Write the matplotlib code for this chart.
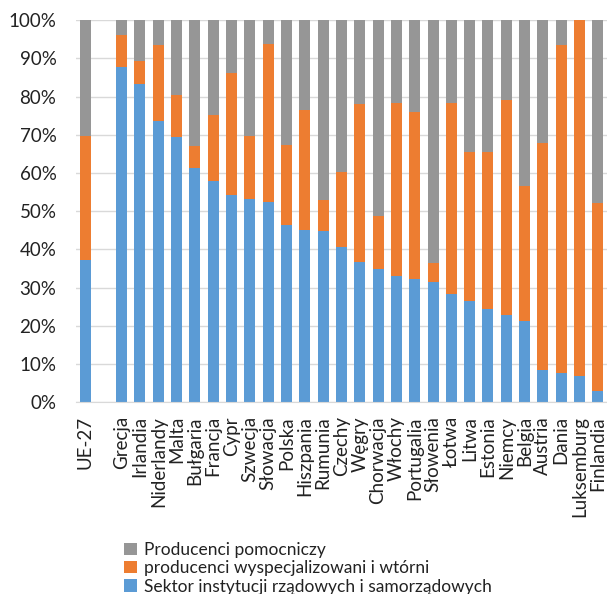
import matplotlib
matplotlib.use("Agg")
import matplotlib.pyplot as plt
import numpy as np

# Share of each sector (%), by country
countries = ["UE-27", "", "Grecja", "Irlandia", "Niderlandy", "Malta", "Bułgaria", "Francja",
             "Cypr", "Szwecja", "Słowacja", "Polska", "Hiszpania", "Rumunia", "Czechy",
             "Węgry", "Chorwacja", "Włochy", "Portugalia", "Słowenia", "Łotwa", "Litwa",
             "Estonia", "Niemcy", "Belgia", "Austria", "Dania", "Luksemburg", "Finlandia"]

sektor_rzadowy = [37.2, np.nan, 87.8, 83.3, 73.6, 69.4, 61.3, 57.8, 54.2, 53.1, 52.3, 46.3,
                  45.2, 44.7, 40.5, 36.7, 34.9, 33.0, 32.3, 31.5, 28.4, 26.5, 24.5, 22.8,
                  21.3, 8.5, 7.7, 6.8, 2.9]
# cumulative top of the second segment
gorna_granica_wyspec = [69.6, np.nan, 96.2, 89.3, 93.5, 80.5, 67.0, 75.3, 86.2, 69.8, 93.8,
                        67.2, 76.4, 52.9, 60.3, 78.0, 48.8, 78.2, 75.9, 36.3, 78.2, 65.5,
                        65.4, 79.0, 56.7, 67.8, 93.5, 100.0, 52.1]

labels = ["Sektor instytucji rządowych i samorządowych",
          "producenci wyspecjalizowani i wtórni",
          "Producenci pomocniczy"]
colors = ["#5B9BD5", "#ED7D31", "#969696"]

blue = np.array(sektor_rzadowy)
orange = np.array(gorna_granica_wyspec) - blue
gray = 100.0 - np.array(gorna_granica_wyspec)

plt.rcParams["font.family"] = ["Lato", "DejaVu Sans"]

fig = plt.figure(figsize=(6.07, 5.94), dpi=100)
ax = fig.add_axes([0.125, 0.323, 0.875, 0.643])

x = np.arange(len(countries))
w = 0.6
b1 = ax.bar(x, blue, w, color=colors[0], label=labels[0], edgecolor="none")
b2 = ax.bar(x, orange, w, bottom=blue, color=colors[1], label=labels[1], edgecolor="none")
b3 = ax.bar(x, gray, w, bottom=blue + orange, color=colors[2], label=labels[2], edgecolor="none")

ax.set_xlim(-0.5, len(countries) - 0.5)
ax.set_ylim(0, 100)
ax.set_yticks(np.arange(0, 101, 10))
ax.set_yticklabels([f"{v}%" for v in range(0, 101, 10)], fontsize=13.5, color="#222222")
ax.set_xticks(x)
ax.set_xticklabels(countries, rotation=90, fontsize=13.5, color="#222222")
ax.tick_params(axis="both", length=0)
ax.tick_params(axis="y", pad=14)
ax.tick_params(axis="x", pad=10)

ax.grid(axis="y", color="#D9D9D9", linewidth=1)
ax.set_axisbelow(True)
for s in ["top", "right", "left"]:
    ax.spines[s].set_visible(False)
ax.spines["bottom"].set_color("#D9D9D9")

handles = [b3, b2, b1]
fig.legend(handles, [labels[2], labels[1], labels[0]], loc="lower left",
           bbox_to_anchor=(0.205, -0.001), frameon=False, fontsize=12.5,
           handlelength=0.7, handleheight=0.7, handletextpad=0.4,
           labelspacing=0.14, borderaxespad=0, borderpad=0, labelcolor="#222222")

fig.savefig("out.png", dpi=100)
